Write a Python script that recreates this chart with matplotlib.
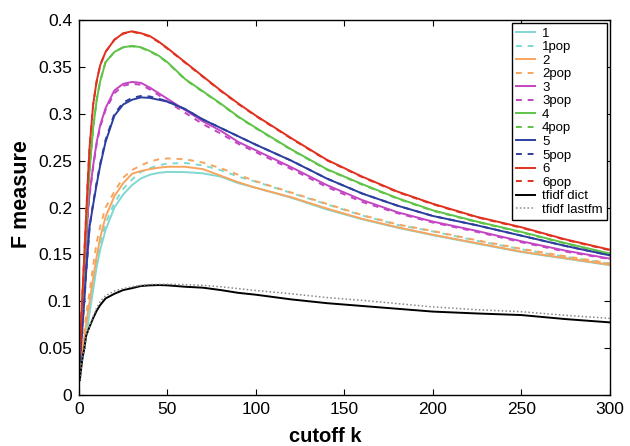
import matplotlib
matplotlib.use("Agg")
import matplotlib.pyplot as plt

plt.rcParams['font.family'] = ['Liberation Sans', 'DejaVu Sans']

# cutoff k sample points
k = [0.5, 1, 2, 3, 4, 5, 6, 8, 10, 12, 15, 20, 25, 30, 35, 40, 45, 50,
     60, 70, 80, 90, 100, 120, 140, 160, 180, 200, 225, 250, 275, 300]

# F measure curves
f1 = [0.025, 0.029, 0.04, 0.05, 0.062, 0.075, 0.088, 0.112, 0.137, 0.155, 0.176, 0.20,
      0.214, 0.224, 0.231, 0.235, 0.237, 0.238, 0.2378, 0.2365, 0.233, 0.226, 0.221,
      0.2105, 0.198, 0.1875, 0.1785, 0.1705, 0.1615, 0.1525, 0.1455, 0.1385]
f1pop = [0.027, 0.032, 0.045, 0.058, 0.07, 0.082, 0.095, 0.12, 0.14, 0.16, 0.183, 0.205,
         0.22, 0.23, 0.238, 0.242, 0.245, 0.247, 0.2475, 0.245, 0.240, 0.233, 0.2275,
         0.2155, 0.2035, 0.1915, 0.1815, 0.1745, 0.1645, 0.1555, 0.1475, 0.14]
f2 = [0.027, 0.033, 0.048, 0.062, 0.075, 0.088, 0.10, 0.125, 0.148, 0.168, 0.19, 0.212,
      0.226, 0.236, 0.239, 0.241, 0.2425, 0.2435, 0.2435, 0.241, 0.234, 0.227, 0.221,
      0.211, 0.199, 0.188, 0.179, 0.171, 0.162, 0.153, 0.146, 0.139]
f2pop = [0.028, 0.035, 0.055, 0.07, 0.085, 0.097, 0.11, 0.138, 0.163, 0.18, 0.20, 0.217,
         0.232, 0.24, 0.245, 0.249, 0.2515, 0.2524, 0.2515, 0.248, 0.242, 0.235, 0.228,
         0.216, 0.204, 0.192, 0.182, 0.175, 0.165, 0.156, 0.148, 0.1405]
f3 = [0.04, 0.055, 0.085, 0.115, 0.15, 0.195, 0.215, 0.245, 0.27, 0.288, 0.306, 0.325,
      0.332, 0.334, 0.333, 0.328, 0.322, 0.316, 0.304, 0.292, 0.282, 0.270, 0.261,
      0.243, 0.224, 0.208, 0.195, 0.185, 0.175, 0.164, 0.154, 0.1455]
f3pop = [0.04, 0.055, 0.085, 0.115, 0.15, 0.193, 0.213, 0.243, 0.268, 0.286, 0.304, 0.322,
         0.330, 0.332, 0.331, 0.326, 0.320, 0.313, 0.301, 0.289, 0.279, 0.268, 0.259,
         0.241, 0.222, 0.206, 0.194, 0.184, 0.174, 0.163, 0.153, 0.145]
f4 = [0.04, 0.06, 0.10, 0.14, 0.175, 0.21, 0.24, 0.285, 0.315, 0.335, 0.355, 0.366,
      0.371, 0.3725, 0.371, 0.367, 0.362, 0.355, 0.337, 0.324, 0.311, 0.297, 0.285,
      0.262, 0.241, 0.225, 0.210, 0.197, 0.185, 0.174, 0.162, 0.151]
f4pop = [0.04, 0.06, 0.10, 0.14, 0.175, 0.21, 0.24, 0.285, 0.315, 0.335, 0.355, 0.366,
         0.371, 0.372, 0.3705, 0.3665, 0.3615, 0.3545, 0.3365, 0.3235, 0.3105, 0.2965, 0.2845,
         0.2615, 0.2405, 0.2245, 0.2095, 0.1965, 0.1845, 0.1735, 0.1615, 0.1505]
f5 = [0.035, 0.05, 0.075, 0.10, 0.13, 0.155, 0.18, 0.203, 0.225, 0.245, 0.27, 0.298,
      0.31, 0.315, 0.3175, 0.317, 0.315, 0.313, 0.305, 0.294, 0.285, 0.276, 0.267,
      0.250, 0.231, 0.215, 0.202, 0.191, 0.181, 0.170, 0.159, 0.149]
f5pop = [0.035, 0.05, 0.075, 0.10, 0.13, 0.155, 0.18, 0.205, 0.227, 0.247, 0.272, 0.300,
         0.312, 0.317, 0.319, 0.3185, 0.316, 0.3135, 0.305, 0.294, 0.285, 0.276, 0.267,
         0.250, 0.231, 0.215, 0.202, 0.191, 0.181, 0.170, 0.159, 0.149]
f6 = [0.045, 0.07, 0.11, 0.15, 0.19, 0.23, 0.265, 0.31, 0.335, 0.352, 0.366, 0.379,
      0.386, 0.388, 0.386, 0.383, 0.377, 0.370, 0.355, 0.340, 0.325, 0.311, 0.298,
      0.274, 0.251, 0.233, 0.217, 0.204, 0.190, 0.179, 0.166, 0.155]
f6pop = [0.045, 0.07, 0.11, 0.15, 0.19, 0.23, 0.265, 0.31, 0.335, 0.352, 0.366, 0.379,
         0.3855, 0.3875, 0.3855, 0.3825, 0.3765, 0.3695, 0.3545, 0.3395, 0.3245, 0.3105, 0.2975,
         0.2735, 0.2505, 0.2325, 0.2165, 0.2035, 0.1895, 0.1785, 0.1655, 0.1545]
tfidf_dict = [0.016, 0.025, 0.04, 0.05, 0.063, 0.068, 0.073, 0.082, 0.09, 0.096, 0.103, 0.108,
              0.112, 0.114, 0.1163, 0.117, 0.1173, 0.117, 0.1155, 0.1145, 0.112, 0.109, 0.107,
              0.102, 0.098, 0.095, 0.092, 0.089, 0.087, 0.0853, 0.081, 0.0775]
tfidf_lastfm = [0.016, 0.025, 0.04, 0.05, 0.063, 0.068, 0.074, 0.084, 0.093, 0.1, 0.106, 0.111,
                0.1135, 0.1155, 0.117, 0.118, 0.118, 0.1182, 0.1178, 0.117, 0.1155, 0.1135, 0.1115,
                0.108, 0.104, 0.101, 0.0975, 0.094, 0.091, 0.0889, 0.085, 0.0818]

# colour per group
colours = ['#7fd8d2', '#f7a55e', '#c345c3', '#5fc347', '#2c3f9e', '#e1301f']
dash = (0, (3, 3))

fig = plt.figure(figsize=(6.3, 4.46), dpi=100)
ax = fig.add_axes([0.1254, 0.1143, 0.8426, 0.8407])

groups = [(f1, f1pop, '1'), (f2, f2pop, '2'), (f3, f3pop, '3'),
          (f4, f4pop, '4'), (f5, f5pop, '5'), (f6, f6pop, '6')]
for (solid, pop, name), c in zip(groups, colours):
    ax.plot(k, solid, color=c, lw=1.4, label=name)
    ax.plot(k, pop, color=c, lw=1.4, ls=dash, label=name + 'pop')
ax.plot(k, tfidf_dict, color='black', lw=1.4, label='tfidf dict')
ax.plot(k, tfidf_lastfm, color='#888888', lw=1.1, ls=(0, (1, 1.5)), label='tfidf lastfm')

ax.set_xlim(0, 300)
ax.set_ylim(0, 0.4)
ax.set_xticks([0, 50, 100, 150, 200, 250, 300])
ax.set_yticks([0, 0.05, 0.1, 0.15, 0.2, 0.25, 0.3, 0.35, 0.4])
ax.set_yticklabels(['0', '0.05', '0.1', '0.15', '0.2', '0.25', '0.3', '0.35', '0.4'])
ax.tick_params(direction='in', top=True, right=True, length=4, labelsize=12.5)
ax.tick_params(axis='x', pad=5)
ax.tick_params(axis='y', pad=5)
for s in ax.spines.values():
    s.set_linewidth(1.0)

# the labels sit a little off-centre in the original
ax.set_xlabel('cutoff k', fontsize=14.5, fontweight='bold')
ax.set_ylabel('F measure', fontsize=15.5, fontweight='bold')
ax.xaxis.set_label_coords(0.463, -0.085)
ax.yaxis.set_label_coords(-0.088, 0.537)

leg = ax.legend(loc='upper right', fontsize=9.5, frameon=True, fancybox=False,
                edgecolor='black', framealpha=1, borderaxespad=0.25,
                labelspacing=0.1, handlelength=1.4, handletextpad=0.55,
                borderpad=0.3)
leg.get_frame().set_linewidth(1.0)

fig.savefig('out.png', dpi=100)
